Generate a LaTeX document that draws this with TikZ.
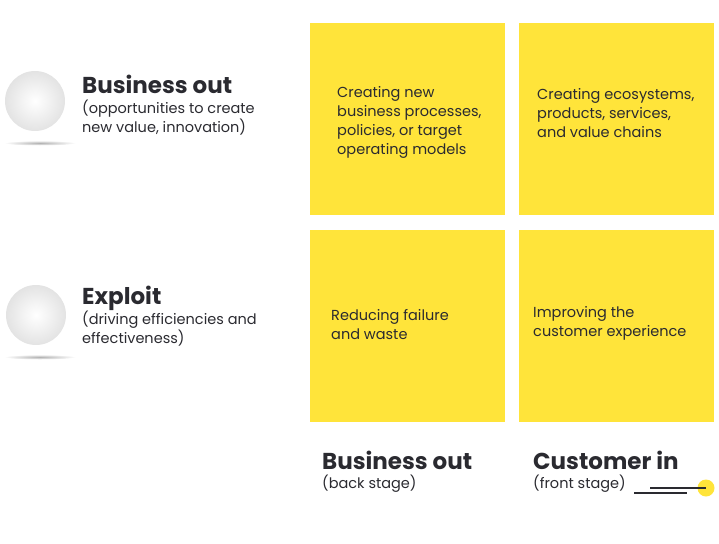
\documentclass[tikz,border=0pt]{standalone}
\usepackage{fontspec}
\setmainfont{Poppins}
\usetikzlibrary{positioning,calc,shapes.geometric}
\definecolor{eyyellow}{HTML}{FFE43A}
\definecolor{eyink}{HTML}{2A2A30}

\begin{document}
\begin{tikzpicture}[
  x=1pt,y=-1pt,
  cell/.style={fill=eyyellow, minimum width=195pt, minimum height=192pt, inner sep=0pt},
  celltext/.style={anchor=north west, align=left, font=\fontsize{14.5}{19}\selectfont, text=eyink, inner sep=0pt},
  head/.style={anchor=north west, font=\fontsize{23}{26}\selectfont\bfseries, text=eyink, inner sep=0pt},
  sub/.style={anchor=north west, align=left, font=\fontsize{14.5}{19}\selectfont, text=eyink, inner sep=0pt},
  ball/.style={circle, minimum size=60pt, inner sep=0pt, inner color=white, outer color=gray!22},
  shadow/.style={ellipse, minimum width=72pt, minimum height=5pt, inner sep=0pt, inner color=gray!60, outer color=white}
]
\useasboundingbox (0,0) rectangle (719,543);

% grid of cells
\node[cell] (bp) at (407.5,119) {};
\node[cell] (eco) at (616.5,119) {};
\node[cell] (fail) at (407.5,326) {};
\node[cell] (cx) at (616.5,326) {};

\node[celltext] (bpt) at (337,86) {Creating new\\business processes,\\policies, or target\\operating models};
\node[celltext] (ecot) at (537,88) {Creating ecosystems,\\products, services,\\and value chains};
\node[celltext] (failt) at (331,309) {Reducing failure\\and waste};
\node[celltext] (cxt) at (533,306) {Improving the\\customer experience};

% row labels
\node[shadow] (sh1) at (40,143) {};
\node[ball] (b1) at (35,101) {};
\node[head] (rowa) at (82,75) {Business out};
\node[sub] (rowasub) at (82,100) {(opportunities to create\\new value, innovation)};

\node[shadow] (sh2) at (40,357) {};
\node[ball] (b2) at (36,315) {};
\node[head] (rowb) at (82,286) {Exploit};
\node[sub] (rowbsub) at (82,311) {(driving efficiencies and\\effectiveness)};

% column labels
\node[head] (cola) at (322,451) {Business out};
\node[sub] (colasub) at (322,475) {(back stage)};
\node[head] (colb) at (533,451) {Customer in};
\node[sub] (colbsub) at (533,475) {(front stage)};

% little mark
\coordinate (l1a) at (634,493);
\coordinate (l1b) at (687,493);
\coordinate (l2a) at (650,488);
\node[circle, fill=eyyellow, minimum size=17pt, inner sep=0pt] (dot) at (706,488) {};
\draw[eyink, line width=1.3pt] (l1a) -- (l1b);
\draw[eyink, line width=1.3pt] (l2a) -- (dot.center);
\end{tikzpicture}
\end{document}
